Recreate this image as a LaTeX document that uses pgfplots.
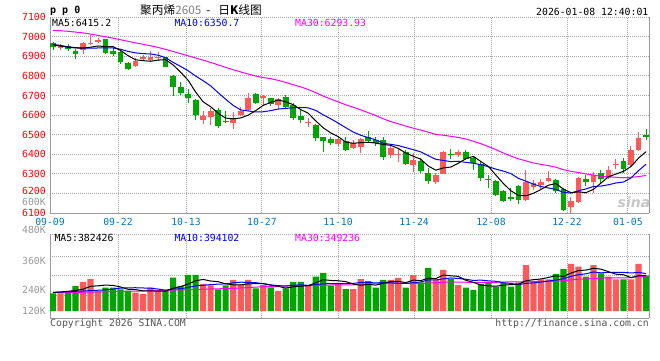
\documentclass[border=0pt]{standalone}
\usepackage{pgfplots}
\pgfplotsset{compat=1.18}
\usepackage{pgfplotstable}
\usepackage{fontspec}
\setmainfont{DejaVu Sans Mono}
\newfontfamily\mono{DejaVu Sans Mono}
\newfontfamily\cjk{Noto Sans CJK SC}
\newfontfamily\sansf{DejaVu Sans}
\definecolor{upred}{HTML}{FF5A5A}
\definecolor{dngreen}{HTML}{00A600}
\definecolor{lblred}{HTML}{FF0000}
\definecolor{dateblue}{HTML}{0077C8}
\definecolor{gridc}{HTML}{A8A8A8}
\definecolor{framec}{HTML}{999999}
\definecolor{ma10c}{HTML}{0000FF}
\definecolor{ma30c}{HTML}{FF00FF}
\definecolor{vlbl}{HTML}{999999}
\definecolor{foot}{HTML}{555555}

\pgfplotstableread{
i O H L C V
1 6940 6962 6930 6952 186
4 6932 6974 6910 6965 307
5 6963 7010 6957 6969 336
6 6974 6993 6966 6983 210
11 6852 6892 6845 6878 194
12 6884 6905 6876 6896 179
13 6883 6926 6870 6894 245
14 6890 6920 6878 6898 210
20 6572 6620 6556 6596 284
21 6592 6635 6550 6618 268
24 6560 6615 6528 6580 326
25 6602 6643 6596 6618 278
26 6627 6712 6620 6689 326
28 6686 6700 6652 6698 273
30 6650 6688 6628 6680 210
34 6560 6585 6541 6564 273
38 6452 6487 6440 6478 287
40 6434 6473 6428 6456 231
41 6439 6482 6405 6480 336
45 6397 6440 6383 6434 326
46 6396 6434 6360 6401 347
48 6346 6404 6310 6372 378
51 6256 6304 6250 6295 326
52 6299 6415 6297 6410 431
54 6395 6422 6388 6409 273
63 6165 6317 6160 6256 483
64 6232 6270 6219 6253 315
65 6244 6273 6219 6256 333
66 6261 6312 6256 6278 333
69 6130 6183 6100 6160 494
70 6157 6282 6150 6278 465
72 6256 6307 6203 6295 483
74 6278 6338 6273 6321 360
75 6343 6376 6322 6349 333
77 6343 6440 6340 6419 333
78 6419 6512 6414 6485 494
}\uptab

\pgfplotstableread{
i O H L C V
0 6967 6974 6933 6946 186
2 6952 6963 6928 6935 205
3 6928 6938 6884 6909 263
7 6986 6990 6912 6918 245
8 6928 6940 6903 6910 245
9 6920 6927 6862 6868 226
10 6866 6868 6830 6835 213
15 6895 6898 6844 6847 215
16 6800 6804 6697 6742 350
17 6745 6770 6703 6712 263
18 6708 6735 6662 6688 380
19 6677 6684 6575 6598 380
22 6625 6635 6535 6544 228
23 6569 6620 6558 6565 268
27 6708 6712 6655 6660 238
29 6685 6688 6645 6656 247
31 6694 6700 6638 6643 238
32 6650 6663 6572 6587 305
33 6596 6626 6560 6572 305
35 6550 6553 6466 6485 360
36 6488 6490 6410 6465 401
37 6478 6490 6448 6457 266
39 6465 6487 6414 6423 231
42 6487 6516 6464 6468 315
43 6473 6487 6443 6456 245
44 6473 6490 6368 6388 326
47 6410 6420 6346 6352 245
49 6363 6380 6304 6312 301
50 6305 6330 6249 6261 452
53 6401 6428 6377 6395 336
55 6409 6420 6372 6377 245
56 6383 6390 6318 6353 221
57 6352 6360 6265 6281 284
58 6273 6295 6228 6268 297
59 6265 6270 6188 6190 255
60 6210 6219 6154 6159 297
61 6181 6228 6163 6170 255
62 6238 6244 6147 6165 297
67 6270 6273 6202 6210 389
68 6224 6228 6108 6113 441
71 6273 6295 6236 6258 360
73 6304 6321 6253 6272 396
76 6363 6380 6304 6325 333
79 6499 6528 6470 6487 371
}\dntab

\pgfplotstableread{
i m5 m10 m30 v5 v10 v30
0 6958 6960 7032 195 196 192
1 6952 6955 7030 200 198 193
2 6946 6948 7027 207 203 194
3 6942 6944 7023 215 207 196
4 6941.4 6942 7019 229.4 210 197
5 6946 6941 7013 259.4 214 199
6 6952.2 6942 7006 264.2 218 200
7 6948.8 6943 6999 272.2 222 202
8 6949 6942 6992 268.6 230 203
9 6929.6 6935.5 6984 252.4 240.9 205
10 6902.8 6924.4 6976 227.8 243.6 207
11 6881.8 6917 6968 224.6 244.4 208
12 6877.4 6913.1 6961 211.4 241.8 210
13 6874.2 6911.6 6953 211.4 240 212
14 6880.2 6904.9 6945 208.2 230.3 215
15 6882.6 6892.7 6935 208.6 218.2 217
16 6855.4 6868.6 6924 239.8 232.2 220
17 6818.6 6848 6913 256.6 234 222
18 6777.4 6825.8 6902 283.6 247.5 224
19 6717.4 6798.8 6891 317.6 262.9 227
20 6667.2 6774.9 6880 331.4 270 229
21 6642.4 6748.9 6868 315 277.4 231
22 6608.8 6713.7 6856 308 282.3 233
23 6584.2 6680.8 6843 285.6 284.6 236
24 6580.6 6649 6831 274.8 296.2 238
25 6585 6626.1 6820 273.6 302.5 242
26 6599.2 6620.8 6809 285.2 300.1 246
27 6622.4 6615.6 6799 287.2 297.6 251
28 6649 6616.6 6791 288.2 286.9 255
29 6664.2 6622.4 6785.6 272.4 273.6 259.1
30 6676.6 6630.8 6776.7 258.8 266.2 259.9
31 6667.4 6633.3 6766.4 241.2 263.2 261.7
32 6652.8 6637.6 6754.8 254.6 270.9 265
33 6627.6 6638.3 6743.6 261 274.6 266.4
34 6609.2 6636.7 6730.2 266.2 269.3 265.3
35 6570.2 6623.4 6714.1 296.2 277.5 266.1
36 6534.6 6601 6696.8 328.8 285 272.4
37 6508.6 6580.7 6681.4 321 287.8 273.1
38 6489.8 6558.7 6667 317.4 289.2 274.5
39 6461.6 6535.4 6652.2 309 287.6 274.7
40 6455.8 6513 6639.6 283.2 289.7 275.3
41 6458.8 6496.7 6626.3 270.2 299.5 280
42 6461 6484.8 6612 280 300.5 284.6
43 6456.6 6473.2 6597.4 271.6 294.5 284.6
44 6449.6 6455.6 6580.4 290.6 299.8 288.4
45 6445.2 6450.5 6566.7 309.6 296.4 292.1
46 6429.4 6444.1 6555.3 311.8 291 292
47 6406.2 6433.6 6543.3 297.8 288.9 291.4
48 6389.4 6423 6532.8 324.4 298 291.4
49 6374.2 6411.9 6523.2 319.4 305 288.7
50 6339.6 6392.4 6512.1 344.6 327.1 294.3
51 6318.4 6373.9 6501.3 340.4 326.1 296.3
52 6330 6368.1 6496.8 377.6 337.7 303
53 6334.6 6362 6491.2 369.2 346.8 305.3
54 6354 6364.1 6485.5 363.6 341.5 303.5
55 6377.2 6358.4 6477.4 322.2 333.4 302.4
56 6388.8 6353.6 6466.2 301.2 320.8 298.9
57 6363 6346.5 6453.6 271.8 324.7 300.5
58 6337.6 6336.1 6439.3 264 316.6 301.3
59 6293.8 6323.9 6423.7 260.4 312 301.5
60 6250.2 6313.7 6406.4 270.8 296.5 304.4
61 6213.6 6301.2 6390.6 277.6 289.4 305
62 6190.4 6276.7 6376.5 280.2 276 304.7
63 6188 6262.8 6366 317.4 290.7 310.7
64 6200.6 6247.2 6355.6 329.4 294.9 312.1
65 6220 6235.1 6348 336.6 303.7 311.2
66 6241.6 6227.6 6341.8 352.2 314.9 308.9
67 6250.6 6220.5 6333.5 370.6 325.4 313
68 6222 6205 6321.4 362.2 339.8 318.1
69 6203.4 6202 6312.6 398 363.7 326.9
70 6207.8 6213.9 6306.7 424.4 380.5 334.7
71 6203.8 6222.7 6299.3 429.8 391 335.5
72 6220.8 6235.7 6293.5 448.6 409.6 341.1
73 6252.6 6237.3 6287.4 439.6 400.9 346.1
74 6284.8 6244.1 6285.1 412.8 405.4 347.3
75 6299 6253.4 6282.3 386.4 405.4 347.5
76 6312.4 6258.1 6279.8 381 405.4 347
77 6337.2 6279 6282 351 399.8 350
78 6379.8 6316.2 6285.8 370.6 405.1 362.3
79 6413 6348.9 6291.6 372.8 392.8 364.7
}\matab

\newcommand{\tf}{\mono\fontsize{9.8}{10}\selectfont}

\pgfplotsset{
  skgrid/.style={
    scale only axis, width=599pt,
    xmin=-0.4, xmax=79.4,
    axis x line*=bottom, axis y line*=left,
    axis line style={framec, line width=1pt, -},
    xtick={-0.4,8.66,17.72,27.84,37.97,48.1,58.35,68.48,76.6},
    major tick length=0pt,
    xmajorgrids, ymajorgrids,
    grid style={gridc, line width=1pt, dash pattern=on 1pt off 1pt},
  },
}

\begin{document}
\begin{tikzpicture}
\path[use as bounding box] (0pt,0pt) rectangle (660pt,-360pt);

% ---------- price panel ----------
\begin{axis}[skgrid,
  at={(50pt,-213pt)}, anchor=south west, height=196pt,
  ymin=6100, ymax=7100,
  xticklabels={09-09,09-22,10-13,10-27,11-10,11-24,12-08,12-22,01-05},
  ytick={6100,6200,...,7100},
  yticklabels={6100,,6300,6400,6500,6600,6700,6800,6900,7000,7100},
  xticklabel style={anchor=base, yshift=-12pt, inner sep=0pt, text=dateblue, font=\tf},
  yticklabel style={anchor=base east, xshift=-4pt, yshift=-3.6pt, inner sep=0pt, text=lblred, font=\tf},
]
% wicks
\addplot[draw=none, mark=none, error bars/.cd, y dir=plus, y explicit, error mark=none,
  error bar style={draw=upred, line width=1pt}]
  table[x=i, y=L, y error expr=\thisrow{H}-\thisrow{L}] {\uptab};
\addplot[draw=none, mark=none, error bars/.cd, y dir=plus, y explicit, error mark=none,
  error bar style={draw=dngreen, line width=1pt}]
  table[x=i, y=L, y error expr=\thisrow{H}-\thisrow{L}] {\dntab};
% bodies
\addplot[draw=none, mark=none, error bars/.cd, y dir=plus, y explicit, error mark=none,
  error bar style={draw=upred, line width=5.8pt}]
  table[x=i, y=O, y error expr=\thisrow{C}-\thisrow{O}] {\uptab};
\addplot[draw=none, mark=none, error bars/.cd, y dir=plus, y explicit, error mark=none,
  error bar style={draw=dngreen, line width=5.8pt}]
  table[x=i, y=C, y error expr=\thisrow{O}-\thisrow{C}] {\dntab};
% moving averages
\addplot[ma30c, line width=1pt, mark=none] table[x=i, y=m30] {\matab};
\addplot[ma10c, line width=1pt, mark=none] table[x=i, y=m10] {\matab};
\addplot[black, line width=1pt, mark=none] table[x=i, y=m5] {\matab};
\end{axis}
\draw[framec, line width=1pt] (649pt,-17pt) -- (649pt,-213pt);

% ---------- volume panel ----------
\begin{axis}[skgrid,
  at={(50pt,-318pt)}, anchor=south west, height=84pt,
  ymin=-73.5, ymax=808.5,
  xticklabels={,,,,,,,,}, ytick={168,372.75,577.5,808.5}, yticklabels={,,,},
]
\addplot[ybar, bar width=6.2pt, bar shift=0pt, fill=upred, draw=none] table[x=i, y=V] {\uptab};
\addplot[ybar, bar width=6.2pt, bar shift=0pt, fill=dngreen, draw=none] table[x=i, y=V] {\dntab};
\addplot[ma30c, line width=1pt, mark=none] table[x=i, y=v30] {\matab};
\addplot[ma10c, line width=1pt, mark=none] table[x=i, y=v10] {\matab};
\addplot[black, line width=1pt, mark=none] table[x=i, y=v5] {\matab};
\end{axis}
\draw[framec, line width=1pt] (649pt,-234pt) -- (649pt,-318pt);

% ---------- texts ----------
\node[anchor=base west, inner sep=0pt, font=\mono\bfseries\fontsize{10}{10}\selectfont] at (50pt,-13.5pt) {p p 0};
\node[anchor=base west, inner sep=0pt, font=\cjk\fontsize{11.7}{12}\selectfont] at (140pt,-14pt) {聚丙烯\textcolor{gray}{2605}\hspace{5pt}-\hspace{8pt}日\textbf{K}线图};
\node[anchor=base east, inner sep=0pt, font=\tf] at (648.5pt,-15pt) {2026-01-08 12:40:01};

\node[anchor=base west, inner sep=0pt, font=\tf] at (52pt,-26.7pt) {MA5:6415.2};
\node[anchor=base west, inner sep=0pt, font=\tf, text=ma10c] at (174.3pt,-26.7pt) {MA10:6350.7};
\node[anchor=base west, inner sep=0pt, font=\tf, text=ma30c] at (295pt,-26.7pt) {MA30:6293.93};

\node[anchor=base west, inner sep=0pt, font=\tf] at (54.3pt,-241.7pt) {MA5:382426};
\node[anchor=base west, inner sep=0pt, font=\tf, text=ma10c] at (174.3pt,-241.7pt) {MA10:394102};
\node[anchor=base west, inner sep=0pt, font=\tf, text=ma30c] at (295pt,-241.7pt) {MA30:349236};

\node[anchor=base east, inner sep=0pt, text height=7pt, text depth=0pt, font=\tf, text=lblred] at (46pt,-194.6pt) {6200};
\node[anchor=base east, inner sep=0pt, text height=7pt, text depth=0pt, font=\tf, text=vlbl] at (46pt,-205.6pt) {600K};
\node[anchor=base east, inner sep=0pt, font=\tf, text=vlbl] at (46pt,-233.6pt) {480K};
\node[anchor=base east, inner sep=0pt, font=\tf, text=vlbl] at (46pt,-264.6pt) {360K};
\node[anchor=base east, inner sep=0pt, font=\tf, text=vlbl] at (46pt,-293.8pt) {240K};
\node[anchor=base east, inner sep=0pt, font=\tf, text=vlbl] at (46pt,-314pt) {120K};

\node[anchor=base west, inner sep=0pt, font=\tf, text=foot] at (50pt,-326.7pt) {Copyright 2026 SINA.COM};
\node[anchor=base east, inner sep=0pt, font=\tf, text=foot] at (649pt,-326.7pt) {http://finance.sina.com.cn};

\node[anchor=base, inner sep=0pt, text=black!22, font=\sansf\bfseries\itshape\fontsize{14}{14}\selectfont] at (634pt,-207pt) {sina};
\end{tikzpicture}
\end{document}
